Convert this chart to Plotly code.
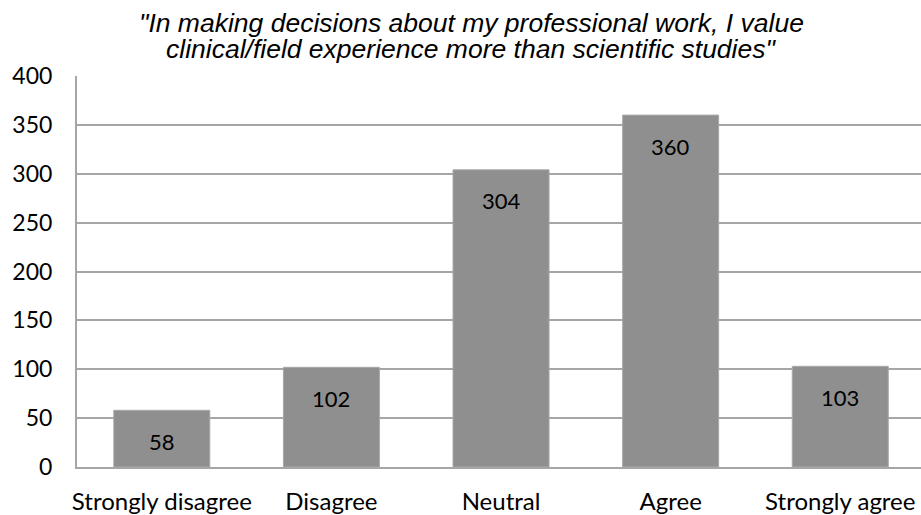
import plotly.graph_objects as go

# Survey responses for the statement in the title
categories = ["Strongly disagree", "Disagree", "Neutral", "Agree", "Strongly agree"]
counts = [58, 102, 304, 360, 103]
y_ticks = [0, 50, 100, 150, 200, 250, 300, 350, 400]

title_lines = [
    '"In making decisions about my professional work, I value',
    'clinical/field experience more than scientific studies"',
]

sans = "Lato, Carlito, Calibri, sans-serif"
tick_font = dict(family=sans, size=23, color="#000000")
cat_font = dict(family=sans, size=24, color="#000000")
value_font = dict(family=sans, size=22, color="#000000")
title_font = dict(family="Liberation Sans, Arial, sans-serif", size=26.5, color="#000000")

fig = go.Figure(
    go.Bar(
        x=list(range(len(categories))),
        y=counts,
        marker=dict(color="#8f8f8f", line=dict(color="#a8a8a8", width=1)),
        width=0.566,
        hoverinfo="skip",
    )
)

# Value labels placed a little below the top of each bar
for i, v in enumerate(counts):
    fig.add_annotation(
        x=i, y=v, text=str(v), showarrow=False, yshift=-31,
        font=value_font, xanchor="center", yanchor="middle",
    )

# Two-line italic title, set line by line for tight spacing
for line, shift in zip(title_lines, [53, 27]):
    fig.add_annotation(
        xref="paper", yref="paper", x=0.467, y=1, yshift=shift,
        text=f"<i>{line}</i>", showarrow=False,
        font=title_font, xanchor="center", yanchor="middle",
    )

fig.update_layout(
    width=921,
    height=515,
    margin=dict(l=77, r=0, t=76, b=48, autoexpand=False),
    paper_bgcolor="white",
    plot_bgcolor="white",
    showlegend=False,
    xaxis=dict(
        tickmode="array",
        tickvals=list(range(len(categories))),
        ticktext=categories,
        range=[-0.5, 4.476],
        showgrid=False,
        showline=True,
        linecolor="#a6a6a6",
        linewidth=2,
        ticks="",
        ticklabelstandoff=12,
        tickfont=cat_font,
        automargin=False,
        fixedrange=True,
    ),
    yaxis=dict(
        range=[0, 400],
        tickmode="array",
        tickvals=y_ticks,
        showgrid=True,
        gridcolor="#a6a6a6",
        gridwidth=2,
        zeroline=False,
        showline=True,
        linecolor="#a6a6a6",
        linewidth=2,
        ticks="",
        ticklabelstandoff=18,
        tickfont=tick_font,
        automargin=False,
        fixedrange=True,
    ),
)

fig.write_html("out.html")
